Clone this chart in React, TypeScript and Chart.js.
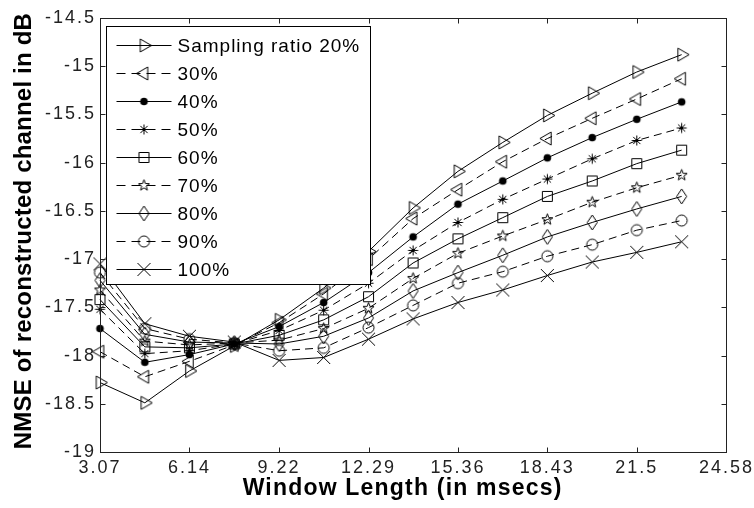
import React, { useEffect, useRef } from 'react';
import { Chart, registerables } from 'chart.js';

Chart.register(...registerables);

// ---------- data ----------
const xValues = [3.07, 4.61, 6.14, 7.68, 9.22, 10.75, 12.29, 13.82, 15.36, 16.9, 18.43, 19.97, 21.5, 23.04];

const ratio20 = [-18.28, -18.49, -18.16, -17.9, -17.63, -17.3, -16.92, -16.47, -16.09, -15.79, -15.51, -15.28, -15.06, -14.88];
const ratio30 = [-17.96, -18.22, -18.06, -17.89, -17.66, -17.36, -17.0, -16.58, -16.28, -15.99, -15.75, -15.54, -15.34, -15.13];
const ratio40 = [-17.72, -18.07, -17.99, -17.88, -17.7, -17.45, -17.14, -16.77, -16.43, -16.19, -15.95, -15.74, -15.55, -15.37];
const ratio50 = [-17.52, -17.98, -17.95, -17.88, -17.74, -17.53, -17.25, -16.91, -16.62, -16.38, -16.17, -15.96, -15.77, -15.64];
const ratio60 = [-17.42, -17.91, -17.92, -17.88, -17.79, -17.63, -17.39, -17.04, -16.79, -16.57, -16.35, -16.19, -16.01, -15.87];
const ratio70 = [-17.32, -17.85, -17.89, -17.87, -17.84, -17.72, -17.51, -17.2, -16.94, -16.76, -16.59, -16.41, -16.26, -16.13];
const ratio80 = [-17.22, -17.78, -17.86, -17.87, -17.88, -17.8, -17.61, -17.33, -17.14, -16.96, -16.77, -16.62, -16.48, -16.35];
const ratio90 = [-17.14, -17.72, -17.83, -17.87, -17.95, -17.92, -17.71, -17.48, -17.25, -17.13, -16.97, -16.85, -16.7, -16.6];
const ratio100 = [-17.05, -17.67, -17.8, -17.86, -18.05, -18.02, -17.83, -17.62, -17.45, -17.32, -17.17, -17.03, -16.93, -16.82];

const seriesLabels = ['Sampling ratio 20%', '30%', '40%', '50%', '60%', '70%', '80%', '90%', '100%'];
const seriesValues = [ratio20, ratio30, ratio40, ratio50, ratio60, ratio70, ratio80, ratio90, ratio100];
const seriesMarkers = ['triR', 'triL', 'dot', 'aster', 'square', 'pent', 'diamond', 'circle', 'x'];
const seriesDashed = [false, true, false, true, false, true, false, true, false];

const xTickValues = [3.07, 6.14, 9.22, 12.29, 15.36, 18.43, 21.5, 24.58];
const xTickLabels = ['3.07', '6.14', '9.22', '12.29', '15.36', '18.43', '21.5', '24.58'];
const yTickValues = [-19, -18.5, -18, -17.5, -17, -16.5, -16, -15.5, -15, -14.5];
const yTickLabels = ['-19', '-18.5', '-18', '-17.5', '-17', '-16.5', '-16', '-15.5', '-15', '-14.5'];

const xTitle = 'Window Length (in msecs)';
const yTitle = 'NMSE of reconstructed channel in dB';

const FONT = '"Liberation Sans", Arial, Helvetica, sans-serif';
const DASH = [8, 5];

// ---------- marker images ----------
function makeMarker(kind: string): HTMLCanvasElement {
  const S = 19;
  const c = document.createElement('canvas');
  c.width = S;
  c.height = S;
  const ctx = c.getContext('2d')!;
  const m = S / 2;
  ctx.strokeStyle = '#000';
  ctx.fillStyle = '#000';
  ctx.lineWidth = 1;
  ctx.beginPath();
  if (kind === 'triR' || kind === 'triL') {
    const r = 7.5;
    const s = kind === 'triR' ? 1 : -1;
    ctx.moveTo(m + s * r, m);
    ctx.lineTo(m - s * r / 2, m - r * 0.866);
    ctx.lineTo(m - s * r / 2, m + r * 0.866);
    ctx.closePath();
    ctx.stroke();
  } else if (kind === 'dot') {
    ctx.arc(m, m, 3.8, 0, Math.PI * 2);
    ctx.fill();
  } else if (kind === 'aster') {
    const r = 5;
    const d = 3.6;
    ctx.moveTo(m, m - r); ctx.lineTo(m, m + r);
    ctx.moveTo(m - r, m); ctx.lineTo(m + r, m);
    ctx.moveTo(m - d, m - d); ctx.lineTo(m + d, m + d);
    ctx.moveTo(m - d, m + d); ctx.lineTo(m + d, m - d);
    ctx.stroke();
  } else if (kind === 'square') {
    ctx.rect(m - 5, m - 5, 10, 10);
    ctx.stroke();
  } else if (kind === 'pent') {
    const ro = 5.8, ri = 2.4;
    for (let i = 0; i < 10; i++) {
      const a = -Math.PI / 2 + (i * Math.PI) / 5;
      const r = i % 2 === 0 ? ro : ri;
      const px = m + r * Math.cos(a);
      const py = m + r * Math.sin(a);
      if (i === 0) ctx.moveTo(px, py); else ctx.lineTo(px, py);
    }
    ctx.closePath();
    ctx.stroke();
  } else if (kind === 'diamond') {
    ctx.moveTo(m, m - 7.5);
    ctx.lineTo(m + 5, m);
    ctx.lineTo(m, m + 7.5);
    ctx.lineTo(m - 5, m);
    ctx.closePath();
    ctx.stroke();
  } else if (kind === 'circle') {
    ctx.arc(m, m, 5.5, 0, Math.PI * 2);
    ctx.stroke();
  } else if (kind === 'x') {
    const r = 6.5;
    ctx.moveTo(m - r, m - r); ctx.lineTo(m + r, m + r);
    ctx.moveTo(m - r, m + r); ctx.lineTo(m + r, m - r);
    ctx.stroke();
  }
  return c;
}

export default function App() {
  const ref = useRef<HTMLCanvasElement | null>(null);

  useEffect(() => {
    document.body.style.margin = '0';
    const canvas = ref.current;
    if (!canvas) return;
    const markers = seriesMarkers.map(makeMarker);

    const datasets = seriesValues.map((vals, i) => ({
      label: seriesLabels[i],
      data: vals.map((y, j) => ({ x: xValues[j], y })),
      borderColor: '#000',
      backgroundColor: 'transparent',
      borderWidth: 1,
      borderDash: seriesDashed[i] ? DASH : [],
      pointStyle: markers[i] as any,
      pointRadius: 5,
      pointHoverRadius: 5,
      tension: 0,
      clip: false as any,
    }));

    const spacingPlugin = {
      id: 'spacing',
      beforeDraw(chart: any) {
        (chart.ctx as any).letterSpacing = '2px';
      },
    };

    const framePlugin = {
      id: 'frame',
      afterDatasetsDraw(chart: any) {
        const { ctx, chartArea: a, scales } = chart;
        const L = Math.round(a.left) + 0.5;
        const R = Math.round(a.right) + 0.5;
        const T = Math.round(a.top) + 0.5;
        const B = Math.round(a.bottom) + 0.5;
        const tl = 5;
        ctx.save();
        ctx.strokeStyle = '#222';
        ctx.lineWidth = 1;
        ctx.setLineDash([]);
        ctx.beginPath();
        xTickValues.forEach((v) => {
          const px = Math.round(scales.x.getPixelForValue(v)) + 0.5;
          ctx.moveTo(px, B); ctx.lineTo(px, B - tl);
          ctx.moveTo(px, T); ctx.lineTo(px, T + tl);
        });
        yTickValues.forEach((v) => {
          const py = Math.round(scales.y.getPixelForValue(v)) + 0.5;
          ctx.moveTo(L, py); ctx.lineTo(L + tl, py);
          ctx.moveTo(R, py); ctx.lineTo(R - tl, py);
        });
        ctx.stroke();
        ctx.strokeRect(L, T, R - L, B - T);

        // legend box
        const lx = L + 6, ly = T + 8, lw = 264, lh = 258;
        ctx.fillStyle = '#fff';
        ctx.fillRect(lx, ly, lw, lh);
        ctx.strokeStyle = '#000';
        ctx.strokeRect(lx, ly, lw, lh);
        ctx.font = '19px ' + FONT;
        (ctx as any).letterSpacing = '1px';
        ctx.textBaseline = 'middle';
        ctx.textAlign = 'left';
        ctx.fillStyle = '#000';
        seriesLabels.forEach((lab, i) => {
          const y = Math.round(ly + 18 + i * 28) + 0.5;
          ctx.beginPath();
          ctx.setLineDash(seriesDashed[i] ? [9, 6] : []);
          ctx.moveTo(lx + 10, y);
          ctx.lineTo(lx + 65, y);
          ctx.stroke();
          ctx.setLineDash([]);
          const mk = markers[i];
          ctx.drawImage(mk, Math.round(lx + 37.5) - mk.width / 2, y - mk.height / 2);
          ctx.fillText(lab, lx + 71, y + 1);
        });

        // axis titles
        ctx.fillStyle = '#000';
        ctx.textAlign = 'center';
        ctx.textBaseline = 'alphabetic';
        ctx.font = 'bold 23px ' + FONT;
        (ctx as any).letterSpacing = '1.2px';
        ctx.fillText(xTitle, a.left + (a.right - a.left) * 0.483, 495);
        ctx.translate(30.5, a.top + (a.bottom - a.top) * 0.491);
        ctx.rotate(-Math.PI / 2);
        ctx.font = 'bold 24px ' + FONT;
        (ctx as any).letterSpacing = '0.2px';
        ctx.fillText(yTitle, 0, 0);
        ctx.restore();
      },
    };

    const chart = new Chart(canvas, {
      type: 'line',
      data: { datasets },
      plugins: [spacingPlugin, framePlugin],
      options: {
        animation: false,
        responsive: false,
        devicePixelRatio: 1,
        events: [],
        layout: { padding: { left: 0, top: 18, right: 27, bottom: 0 } },
        plugins: { legend: { display: false }, tooltip: { enabled: false } },
        scales: {
          x: {
            type: 'linear',
            min: 3.07,
            max: 24.58,
            afterBuildTicks: (s: any) => {
              s.ticks = xTickValues.map((v) => ({ value: v }));
            },
            afterFit: (s: any) => {
              s.height = 56;
            },
            grid: { display: false, drawTicks: false },
            border: { display: false },
            ticks: {
              autoSkip: false,
              maxRotation: 0,
              padding: 5,
              color: '#222',
              font: { family: FONT, size: 18 },
              callback: (v: any) => {
                const i = xTickValues.indexOf(Number(v));
                return i >= 0 ? xTickLabels[i] : '';
              },
            },
            title: { display: false },
          },
          y: {
            type: 'linear',
            min: -19,
            max: -14.5,
            afterBuildTicks: (s: any) => {
              s.ticks = yTickValues.map((v) => ({ value: v }));
            },
            afterFit: (s: any) => {
              s.width = 100;
            },
            grid: { display: false, drawTicks: false },
            border: { display: false },
            ticks: {
              autoSkip: false,
              padding: 4,
              color: '#222',
              font: { family: FONT, size: 18 },
              callback: (v: any) => {
                const i = yTickValues.indexOf(Number(v));
                return i >= 0 ? yTickLabels[i] : '';
              },
            },
            title: { display: false },
          },
        },
      } as any,
    });

    return () => chart.destroy();
  }, []);

  return (
    <div style={{ width: 754, height: 508, background: '#fff' }}>
      <canvas ref={ref} width={754} height={508} style={{ display: 'block' }} />
    </div>
  );
}
